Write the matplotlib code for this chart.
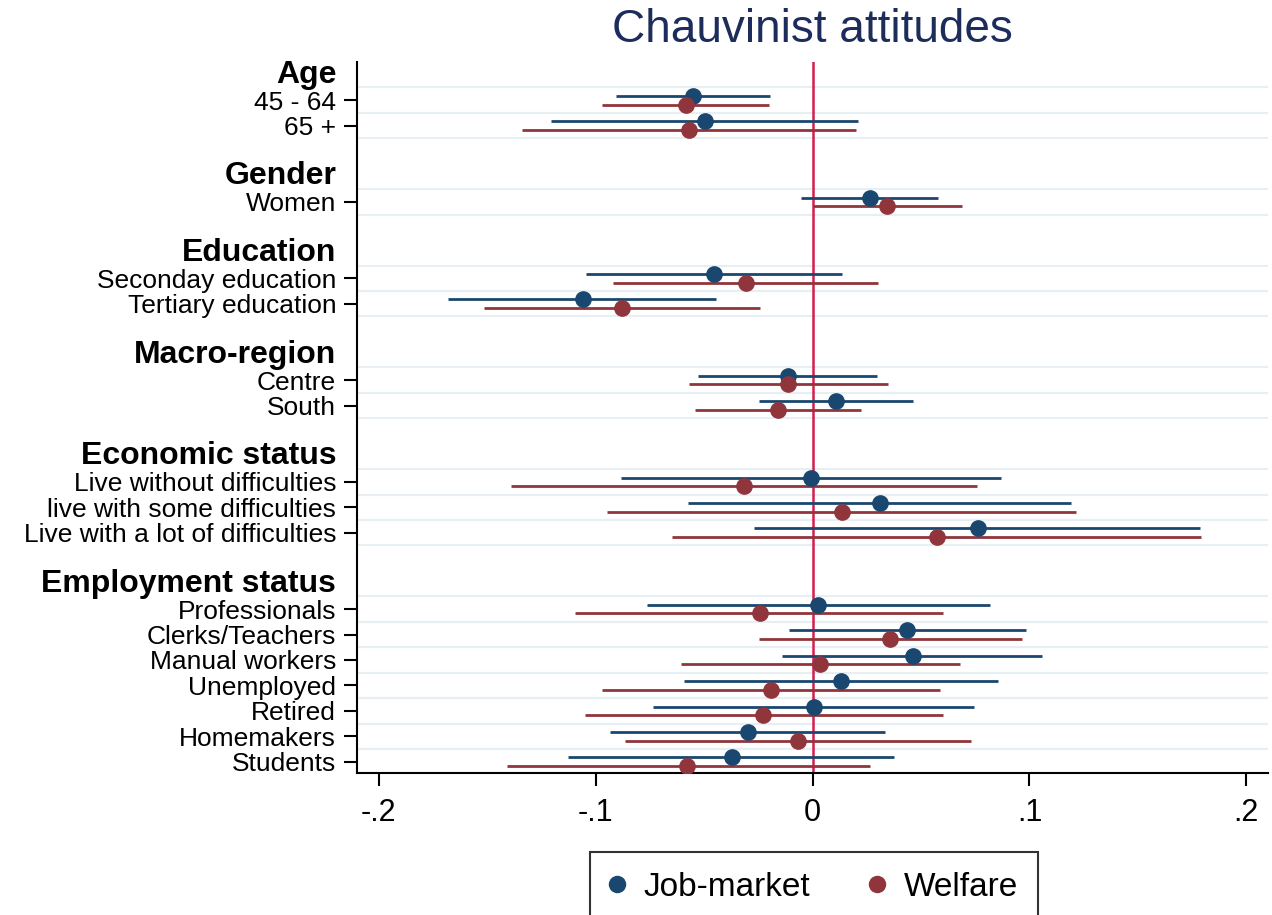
import matplotlib
matplotlib.use('Agg')
import matplotlib.pyplot as plt
import numpy as np

plt.rcParams['font.family'] = ['Liberation Sans', 'DejaVu Sans']

# group headings and how many categories fall under each
groups = ["Age", "Gender", "Education", "Macro-region", "Economic status", "Employment status"]
group_sizes = [2, 1, 2, 2, 3, 7]

categories = ["45 - 64", "65 +",
              "Women",
              "Seconday education", "Tertiary education",
              "Centre", "South",
              "Live without difficulties", "live with some difficulties", "Live with a lot of difficulties",
              "Professionals", "Clerks/Teachers", "Manual workers", "Unemployed", "Retired",
              "Homemakers", "Students"]

# Job-market model
job_coef = [-0.055, -0.0496, 0.0265, -0.0454, -0.106, -0.0112, 0.0108, -0.0009, 0.031, 0.0762,
            0.0026, 0.0437, 0.0461, 0.0131, 0.0006, -0.0296, -0.0373]
job_lo = [-0.0906, -0.1205, -0.0055, -0.1044, -0.168, -0.0527, -0.0247, -0.0883, -0.0576, -0.0269,
          -0.0763, -0.0109, -0.0141, -0.0591, -0.0735, -0.0934, -0.1126]
job_hi = [-0.0196, 0.0211, 0.0579, 0.0135, -0.0447, 0.0298, 0.0464, 0.0868, 0.119, 0.1785,
          0.0818, 0.0983, 0.1058, 0.0856, 0.0745, 0.0335, 0.0377]

# Welfare model
wel_coef = [-0.0585, -0.057, 0.0344, -0.0307, -0.0877, -0.0112, -0.0161, -0.0315, 0.0135, 0.0573,
            -0.0242, 0.0357, 0.0034, -0.0193, -0.023, -0.0066, -0.0577]
wel_lo = [-0.0969, -0.134, 0.0003, -0.0918, -0.1517, -0.057, -0.0542, -0.139, -0.0949, -0.065,
          -0.1093, -0.0247, -0.0606, -0.0969, -0.1049, -0.0863, -0.141]
wel_hi = [-0.0201, 0.020, 0.0689, 0.0303, -0.0242, 0.0346, 0.0223, 0.0758, 0.1214, 0.179,
          0.0602, 0.0966, 0.0679, 0.0587, 0.06, 0.0731, 0.0266]

xticks = [-0.2, -0.1, 0, 0.1, 0.2]
xticklabels = ["-.2", "-.1", "0", ".1", ".2"]

NAVY = '#1a476f'
MAROON = '#90353b'

# lay out rows: header, its categories, then an empty gap row
tick_pos, tick_lab, is_header, item_pos = [], [], [], []
slot = 0
k = 0
for g, n in zip(groups, group_sizes):
    # headers nudged up a little so their descenders clear the first category
    tick_pos.append(slot - 0.14); tick_lab.append(g); is_header.append(True)
    slot += 1
    for _ in range(n):
        tick_pos.append(slot); tick_lab.append(categories[k]); is_header.append(False)
        item_pos.append(slot)
        slot += 1
        k += 1
    slot += 1
item_pos = np.array(item_pos, dtype=float)

fig = plt.figure(figsize=(12.72, 9.15), dpi=100)
ax = fig.add_axes([0.2807, 0.1555, 0.7162, 0.7767])

# light separators above and below every category row
for y in item_pos:
    ax.axhline(y - 0.5, color='#e7eff4', lw=1.5, zorder=0)
    ax.axhline(y + 0.5, color='#e7eff4', lw=1.5, zorder=0)

ax.axvline(0, color='#d41f4e', lw=1.8, zorder=1)

off = 0.17
ax.hlines(item_pos - off, job_lo, job_hi, color=NAVY, lw=2, zorder=2)
ax.hlines(item_pos + off, wel_lo, wel_hi, color=MAROON, lw=2, zorder=2)
ax.plot(job_coef, item_pos - off, 'o', color=NAVY, ms=11, zorder=3, label='Job-market')
ax.plot(wel_coef, item_pos + off, 'o', color=MAROON, ms=11, zorder=3, label='Welfare')

ax.set_xlim(-0.21, 0.21)
ax.set_ylim(27.43, -0.5)

ax.set_yticks(tick_pos)
ax.set_yticklabels(tick_lab)
for t, lab, h in zip(ax.yaxis.get_major_ticks(), ax.get_yticklabels(), is_header):
    if h:
        t.tick1line.set_visible(False)
        lab.set_fontweight('bold')
        lab.set_fontsize(23)
    else:
        lab.set_fontsize(19)
ax.tick_params(axis='y', length=9.5, width=1.5, pad=5.5)

ax.set_xticks(xticks)
ax.set_xticklabels(xticklabels, fontsize=22)
ax.tick_params(axis='x', length=9, width=1.5, pad=9)

for s in ['top', 'right']:
    ax.spines[s].set_visible(False)
for s in ['left', 'bottom']:
    ax.spines[s].set_linewidth(1.5)

fig.text(0.6388, 1 - 30 / 915, "Chauvinist attitudes", ha='center', va='center',
         fontsize=33, color='#1c2d5c')

leg = ax.legend(loc='upper center', bbox_to_anchor=(814 / 1272, 1 - 852 / 915),
                bbox_transform=fig.transFigure, borderaxespad=0, ncol=2, fontsize=24,
                frameon=True, fancybox=False, edgecolor='black', handlelength=0.4,
                handletextpad=0.6, columnspacing=1.8, borderpad=0.6, markerscale=1.05)
leg.get_frame().set_linewidth(1.5)

fig.savefig("out.png", dpi=100, facecolor='white')
